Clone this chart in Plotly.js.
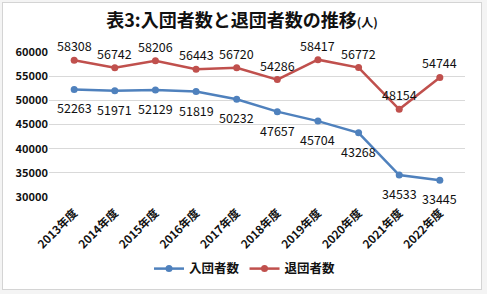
<!DOCTYPE html>
<html><head><meta charset="utf-8">
<script src="https://cdn.plot.ly/plotly-3.0.1.min.js"></script>
<style>
html,body{margin:0;padding:0;background:#f4f4f4;}
#wrap{position:absolute;left:2px;top:2px;width:478px;height:286px;border:1px solid #d4d4d4;background:#fff;}
#chart{width:478px;height:286px;}
</style></head><body>
<div id="wrap"><div id="chart"></div></div>
<script>
const years = ["2013年度","2014年度","2015年度","2016年度","2017年度","2018年度","2019年度","2020年度","2021年度","2022年度"];
const joined = [52263,51971,52129,51819,50232,47657,45704,43268,34533,33445];
const left = [58308,56742,58206,56443,56720,54286,58417,56772,48154,54744];
const yTicks = [30000,35000,40000,45000,50000,55000,60000];

const F = "Noto Sans CJK JP, Open Sans, sans-serif";
const blue = "#4F81BD", red = "#C0504D";
const traces = [
  {x: years, y: joined, name: "入団者数", type: "scatter", mode: "lines+markers",
   line: {color: blue, width: 2.5}, marker: {color: blue, size: 7}, cliponaxis: false},
  {x: years, y: left, name: "退団者数", type: "scatter", mode: "lines+markers",
   line: {color: red, width: 2.5}, marker: {color: red, size: 7}, cliponaxis: false}
];
const annotations = [];
years.forEach((yr, i) => {
  annotations.push({x: yr, y: joined[i], text: String(joined[i]), showarrow: false,
    yanchor: "middle", yshift: -18.5, font: {family: F, size: 12.5, color: "#111"}});
  annotations.push({x: yr, y: left[i], text: String(left[i]), showarrow: false,
    yanchor: "middle", yshift: 14.5, font: {family: F, size: 12.5, color: "#111"}});
});
const layout = {
  width: 478, height: 286,
  margin: {l: 46, r: 16, t: 49, b: 92},
  paper_bgcolor: "#fff", plot_bgcolor: "#fff",
  font: {family: F, color: "#111"},
  title: {text: "<b>表3:入団者数と退団者数の推移<span style='font-size:12px'>(人)</span></b>",
          font: {family: F, size: 18, color: "#111"}, x: 0.5, xanchor: "center", y: 0.937, yanchor: "middle"},
  xaxis: {type: "category", tickangle: -45, showgrid: false, showline: false, ticks: "",
          ticklabelstandoff: 6, automargin: false,
          tickfont: {family: F, size: 11.5, color: "#111", weight: "bold"}, fixedrange: true},
  yaxis: {range: [30000, 60000], tickvals: yTicks, ticktext: yTicks.map(String), automargin: false,
          showgrid: true, gridcolor: "#d9d9d9", gridwidth: 1, zeroline: false, showline: false,
          ticks: "", ticklen: 0, tickfont: {family: F, size: 11, color: "#111", weight: "bold"}},
  annotations: annotations,
  showlegend: true,
  legend: {orientation: "h", xref: "paper", x: 0.47, xanchor: "center",
           yref: "container", y: 0.07, yanchor: "middle",
           font: {family: F, size: 12.5, color: "#111", weight: "bold"}, itemwidth: 30}
};
Plotly.newPlot("chart", traces, layout, {displayModeBar: false, staticPlot: true});
</script></body></html>
